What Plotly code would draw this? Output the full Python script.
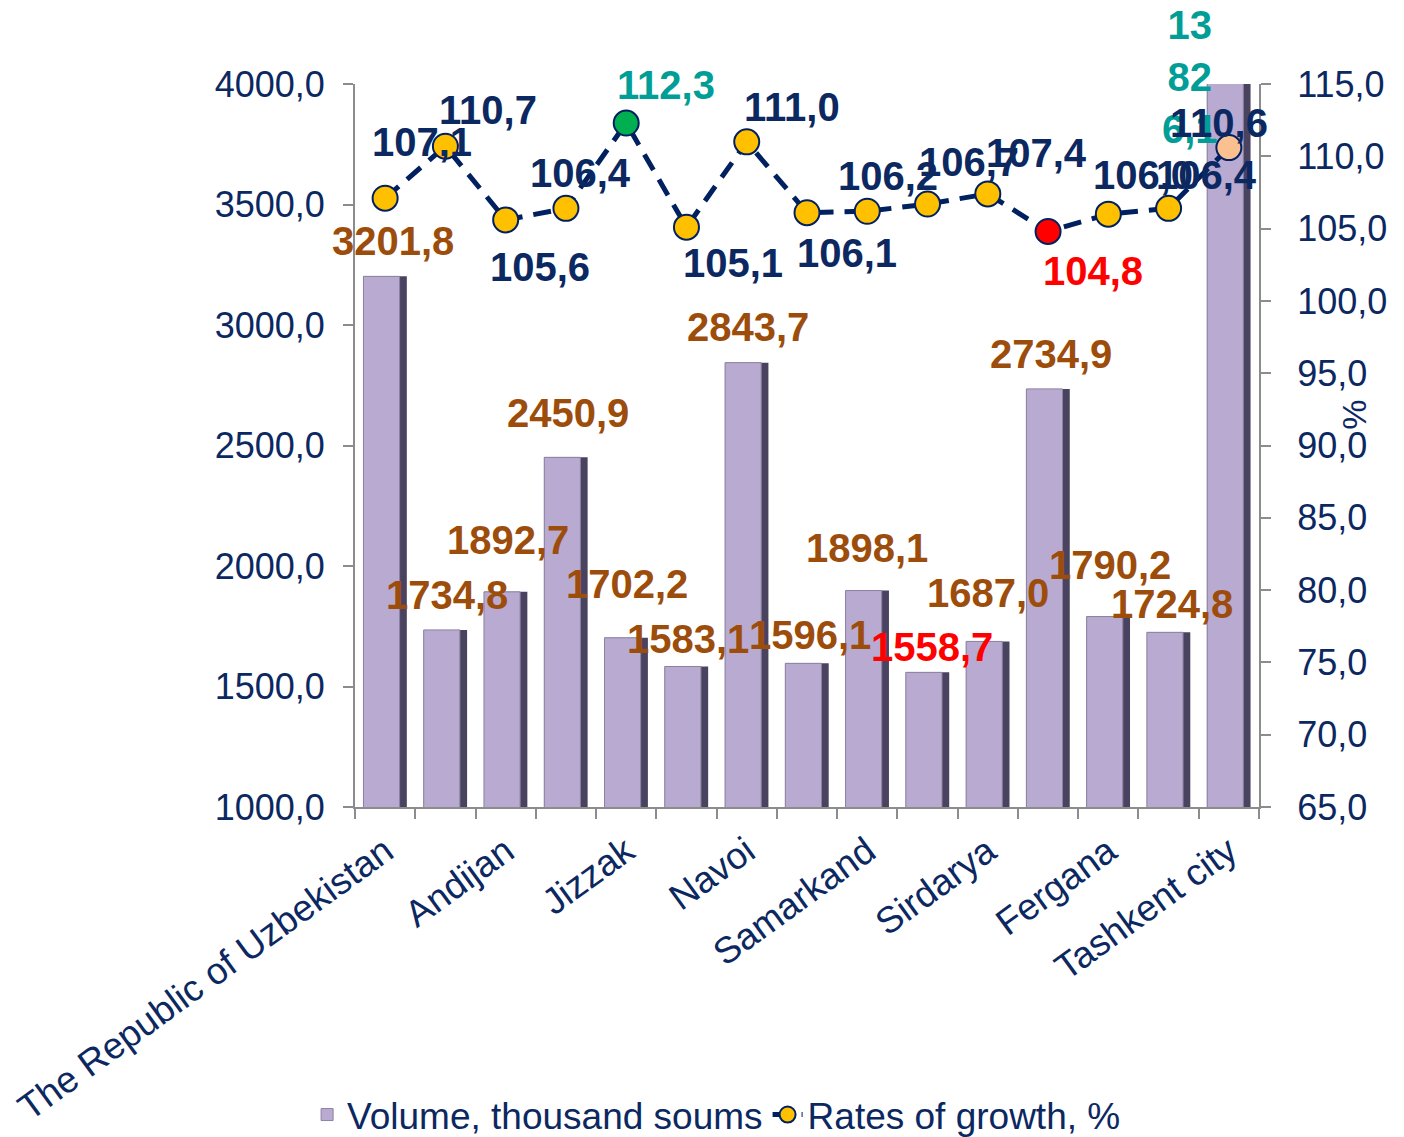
import plotly.graph_objects as go

categories = ["The Republic of Uzbekistan", "The Republic of Karakalpakstan", "Andijan", "Bukhara",
              "Jizzak", "Kashkadarya", "Navoi", "Namangan", "Samarkand", "Surkhandarya",
              "Sirdarya", "Tashkent", "Fergana", "Khorezm", "Tashkent city"]
volume = [3201.8, 1734.8, 1892.7, 2450.9, 1702.2, 1583.1, 2843.7, 1596.1, 1898.1, 1558.7,
          1687.0, 2734.9, 1790.2, 1724.8, 13826.1]
growth = [107.1, 110.7, 105.6, 106.4, 112.3, 105.1, 111.0, 106.1, 106.2, 106.7,
          107.4, 104.8, 106.0, 106.4, 110.6]
left_ticks = [1000, 1500, 2000, 2500, 3000, 3500, 4000]
right_ticks = [65, 70, 75, 80, 85, 90, 95, 100, 105, 110, 115]

NAVY = "#0C2861"
BROWN = "#9C4D0C"
TEAL = "#009E96"
RED = "#FF0000"
GRAY = "#8C8C8C"
FONT = "Arial, Liberation Sans, sans-serif"

def fmt(v):
    return f"{v:.1f}".replace(".", ",")

x = list(range(len(categories)))

# label offsets (pixels) and colours
bar_shift = [(8, 35), (2, 35), (2, 52), (2, 44), (1, 54), (2, 27), (1, 36), (3, 28),
             (0, 43), (4, 25), (0, 48), (3, 35), (2, 52), (3, 28), (-39, 7)]
bar_col = [BROWN] * 15
bar_col[9] = RED
bar_col[14] = TEAL
line_shift = [(37, 56), (43, 36), (34, -47), (15, 35), (40, 38), (47, -36), (45, 35), (40, -40),
              (21, 35), (41, 42), (49, 41), (45, -40), (35, 39), (38, 33), (-10, 25)]
line_col = [NAVY] * 15
line_col[4] = TEAL
line_col[11] = RED
marker_col = ["#FFC000"] * 15
marker_col[4] = "#00B050"
marker_col[11] = "#FF0000"
marker_col[14] = "#FAC090"

fig = go.Figure()
# dark body (gives the shaded right edge of each column)
fig.add_trace(go.Bar(
    x=x, y=volume, name="Volume, thousand soums", showlegend=False, hoverinfo="skip",
    marker=dict(color="#4A4360", line=dict(color="#4A4360", width=0)),
    width=0.72, yaxis="y",
))
# light face of each column
fig.add_trace(go.Bar(
    x=x, y=volume, name="Volume, thousand soums",
    marker=dict(color="#B9AAD1", line=dict(color="#8C82A0", width=1)),
    width=0.6, offset=-0.36, yaxis="y",
))
fig.add_trace(go.Scatter(
    x=x, y=growth, name="Rates of growth, %", yaxis="y2", mode="lines+markers",
    line=dict(color="#002060", width=5, dash="18px,11px"),
    marker=dict(size=25, color=marker_col, line=dict(color="#002060", width=2)),
))

ann = []
for i, v in enumerate(volume):
    txt = fmt(v)
    if v > 4000:
        txt = "13<br>82<br>6,1"
    ann.append(dict(x=i, y=min(v, 4000), xref="x", yref="y", text=txt, showarrow=False,
                    xshift=bar_shift[i][0], yshift=bar_shift[i][1],
                    font=dict(family=FONT, size=40, color=bar_col[i], weight="bold")))
for i, v in enumerate(growth):
    ann.append(dict(x=i, y=v, xref="x", yref="y2", text=fmt(v), showarrow=False,
                    xshift=line_shift[i][0], yshift=line_shift[i][1],
                    font=dict(family=FONT, size=40, color=line_col[i], weight="bold")))
ann.append(dict(x=1.129, y=0.542, xref="paper", yref="paper", text="%", showarrow=False,
                textangle=-90, font=dict(family=FONT, size=34, color=NAVY)))

fig.update_layout(
    width=1404, height=1137,
    margin=dict(l=347, r=153, t=76, b=338, autoexpand=False),
    paper_bgcolor="white", plot_bgcolor="white",
    barmode="overlay",
    font=dict(family=FONT, size=36, color=NAVY),
    showlegend=True,
    legend=dict(orientation="h", x=0.40, xanchor="center", y=-0.426, yanchor="middle",
                font=dict(family=FONT, size=37, color=NAVY), bgcolor="rgba(0,0,0,0)"),
    annotations=ann,
    xaxis=dict(
        range=[-0.5, 14.5], tickmode="array", tickvals=x[::2], ticktext=categories[::2],
        tickangle=-36, ticks="", showline=True, linecolor=GRAY, linewidth=2,
        showgrid=False, zeroline=False, tickfont=dict(size=37, color=NAVY), automargin=False,
        ticklabelstandoff=6,
        minor=dict(ticks="outside", tick0=-0.5, dtick=1, ticklen=10, tickwidth=2, tickcolor=GRAY),
    ),
    yaxis=dict(
        range=[1000, 4000], tickmode="array", tickvals=left_ticks,
        ticktext=[fmt(t) for t in left_ticks], ticks="outside", ticklen=10, tickwidth=2,
        tickcolor=GRAY, showline=True, linecolor=GRAY, linewidth=2, showgrid=False,
        zeroline=False, ticklabelstandoff=11, automargin=False,
    ),
    yaxis2=dict(
        range=[65, 115], overlaying="y", side="right", tickmode="array", tickvals=right_ticks,
        ticktext=[fmt(t) for t in right_ticks], ticks="outside", ticklen=10, tickwidth=2,
        tickcolor=GRAY, showline=True, linecolor=GRAY, linewidth=2, showgrid=False,
        zeroline=False, ticklabelstandoff=19, automargin=False,
    ),
)

fig.write_html("out.html")
